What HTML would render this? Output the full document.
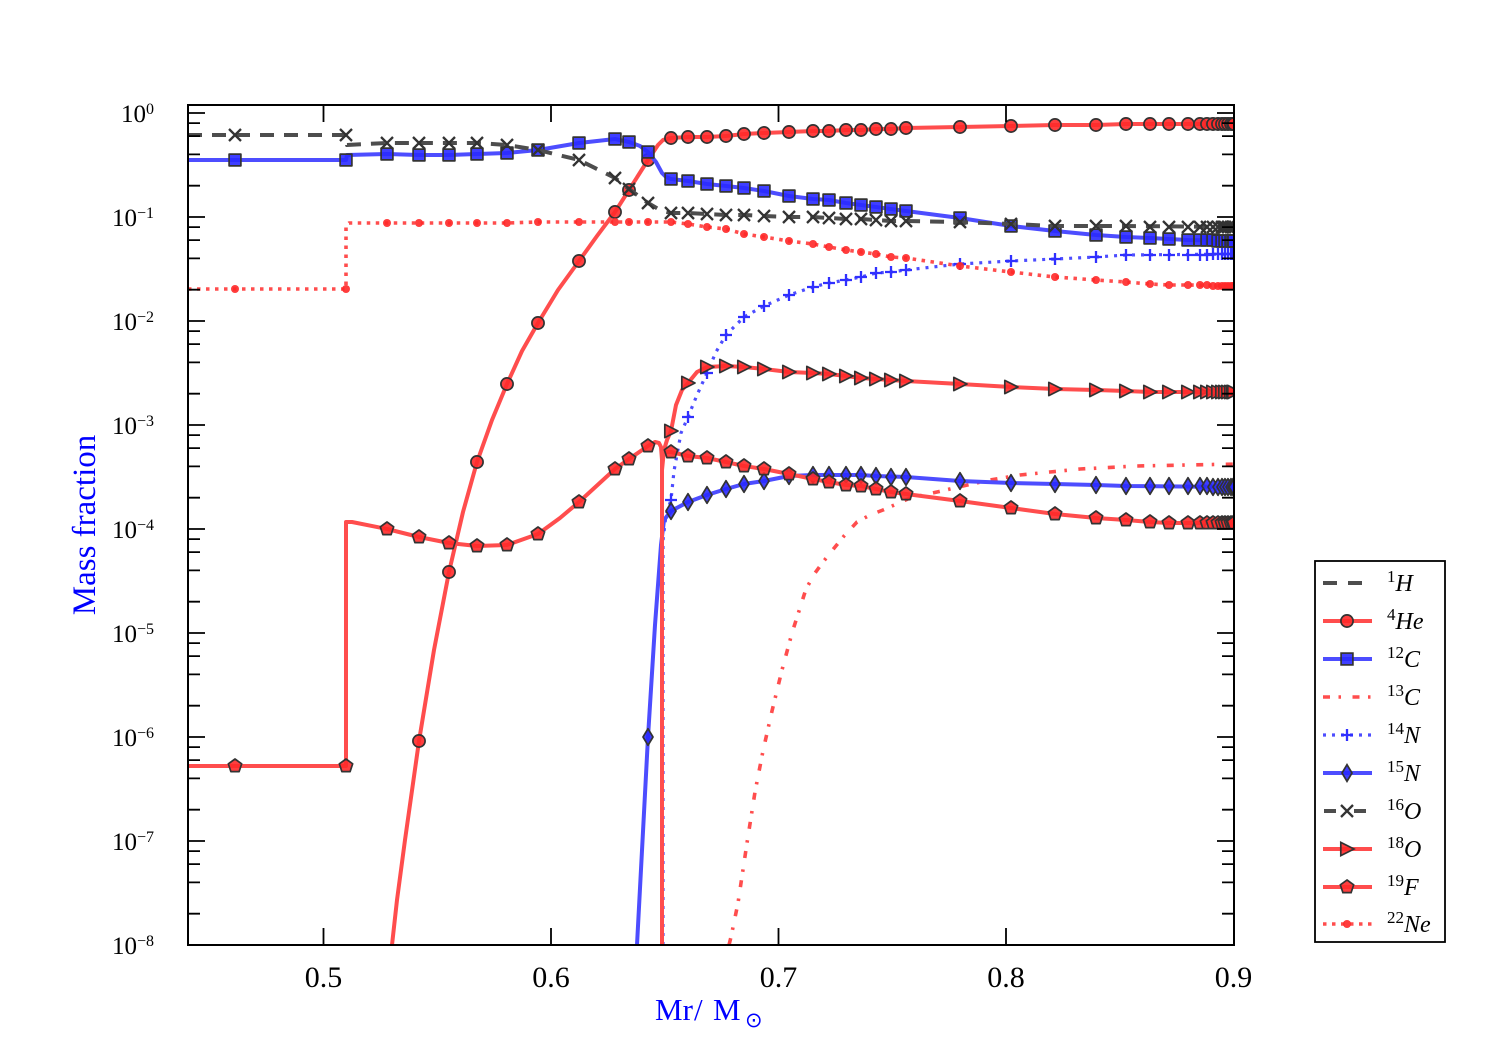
<!DOCTYPE html>
<html><head><meta charset="utf-8"><style>
html,body{margin:0;padding:0;background:#fff;}
svg{display:block;}
text{font-family:"Liberation Serif","DejaVu Serif",serif;}
</style></head><body>
<svg width="1500" height="1050" viewBox="0 0 1500 1050" xmlns="http://www.w3.org/2000/svg">
<defs>
<clipPath id="cp"><rect x="188" y="105" width="1046" height="840"/></clipPath>
<g id="circ"><circle cx="0" cy="0" r="6.1" fill="#ff2a2a" fill-opacity="0.9" stroke="#333" stroke-width="1.7"/></g>
<g id="sq"><rect x="-5.9" y="-5.9" width="11.8" height="11.8" fill="#2a2aff" fill-opacity="0.9" stroke="#333" stroke-width="1.7"/></g>
<g id="xm"><path d="M-6,-6L6,6M-6,6L6,-6" stroke="#333" stroke-width="2.3" fill="none"/></g>
<g id="pl"><path d="M-6,0H6M0,-6V6" stroke="#3030ff" stroke-width="2.3" fill="none"/></g>
<g id="dia"><polygon points="0,-8.3 5,0 0,8.3 -5,0" fill="#2a2aff" fill-opacity="0.9" stroke="#333" stroke-width="1.7"/></g>
<g id="tri"><polygon points="7,0 -6.2,6.6 -6.2,-6.6" fill="#ff2a2a" fill-opacity="0.9" stroke="#333" stroke-width="1.7"/></g>
<g id="pent"><polygon points="0,-7 6.66,-2.16 4.11,5.66 -4.11,5.66 -6.66,-2.16" fill="#ff2a2a" fill-opacity="0.9" stroke="#333" stroke-width="1.7"/></g>
<g id="dot"><circle cx="0" cy="0" r="4" fill="#ff2828" fill-opacity="0.9"/></g>
</defs>

<g clip-path="url(#cp)" fill="none" stroke-linejoin="round">
<!-- 4He -->
<path stroke="#ff4d4d" stroke-width="4" d="M392,945 L397,900 L405,840 L419,741 L434,650 L449,572 L463,512 L477,462 L492,420 L507,384 L522,351 L538,323 L558,290 L579,261 L597,236 L615,212 L629,190 L648,160 L658,145 L663,140 L671,138 L688,137 L707,137 L726,136 L744,134 L764,133 L789,132 L813,131 L829,131 L846,130 L861,130 L876,129 L891,129 L906,128 L960,127 L1011,126 L1055,125 L1096,125 L1126,124 L1240,124"/>
<g>
<use href="#circ" x="419" y="741"/><use href="#circ" x="449" y="572"/><use href="#circ" x="477" y="462"/><use href="#circ" x="507" y="384"/><use href="#circ" x="538" y="323"/><use href="#circ" x="579" y="261"/><use href="#circ" x="615" y="212"/><use href="#circ" x="629" y="190"/><use href="#circ" x="648" y="160"/><use href="#circ" x="671" y="138"/><use href="#circ" x="688" y="137"/><use href="#circ" x="707" y="137"/><use href="#circ" x="726" y="136"/><use href="#circ" x="744" y="134"/><use href="#circ" x="764" y="133"/><use href="#circ" x="789" y="132"/><use href="#circ" x="813" y="131"/><use href="#circ" x="829" y="131"/><use href="#circ" x="846" y="130"/><use href="#circ" x="861" y="130"/><use href="#circ" x="876" y="129"/><use href="#circ" x="891" y="129"/><use href="#circ" x="906" y="128"/><use href="#circ" x="960" y="127"/><use href="#circ" x="1011" y="126"/><use href="#circ" x="1055" y="125"/><use href="#circ" x="1096" y="125"/><use href="#circ" x="1126" y="124"/><use href="#circ" x="1150" y="124"/><use href="#circ" x="1169" y="124"/><use href="#circ" x="1188" y="124"/><use href="#circ" x="1200" y="124"/><use href="#circ" x="1207" y="124"/><use href="#circ" x="1213" y="124"/><use href="#circ" x="1218" y="124"/><use href="#circ" x="1222" y="124"/><use href="#circ" x="1225" y="124"/><use href="#circ" x="1228" y="124"/><use href="#circ" x="1231" y="124"/><use href="#circ" x="1233" y="124"/><use href="#circ" x="1234" y="124"/>
</g>

<!-- 12C -->
<path stroke="#4d4dff" stroke-width="4" d="M188,160 L346,160 L347,155 L387,154 L419,155 L449,155 L477,154 L507,153 L538,150 L579,143 L615,139 L629,142 L640,146 L648,152 L656,162 L662,173 L666,177 L671,179 L688,181 L707,184 L726,186 L744,188 L764,191 L789,196 L813,199 L829,200 L846,203 L861,205 L876,207 L891,209 L906,211 L960,218 L1011,226 L1055,231 L1096,235 L1126,237 L1150,238 L1169,239 L1188,240 L1240,241"/>
<g>
<use href="#sq" x="235" y="160"/><use href="#sq" x="346" y="160"/><use href="#sq" x="387" y="154"/><use href="#sq" x="419" y="155"/><use href="#sq" x="449" y="155"/><use href="#sq" x="477" y="154"/><use href="#sq" x="507" y="153"/><use href="#sq" x="538" y="150"/><use href="#sq" x="579" y="143"/><use href="#sq" x="615" y="139"/><use href="#sq" x="629" y="142"/><use href="#sq" x="648" y="152"/><use href="#sq" x="671" y="179"/><use href="#sq" x="688" y="181"/><use href="#sq" x="707" y="184"/><use href="#sq" x="726" y="186"/><use href="#sq" x="744" y="188"/><use href="#sq" x="764" y="191"/><use href="#sq" x="789" y="196"/><use href="#sq" x="813" y="199"/><use href="#sq" x="829" y="200"/><use href="#sq" x="846" y="203"/><use href="#sq" x="861" y="205"/><use href="#sq" x="876" y="207"/><use href="#sq" x="891" y="209"/><use href="#sq" x="906" y="211"/><use href="#sq" x="960" y="218"/><use href="#sq" x="1011" y="226"/><use href="#sq" x="1055" y="231"/><use href="#sq" x="1096" y="235"/><use href="#sq" x="1126" y="237"/><use href="#sq" x="1150" y="238"/><use href="#sq" x="1169" y="239"/><use href="#sq" x="1188" y="240"/><use href="#sq" x="1200" y="240"/><use href="#sq" x="1207" y="240"/><use href="#sq" x="1213" y="240"/><use href="#sq" x="1218" y="241"/><use href="#sq" x="1222" y="241"/><use href="#sq" x="1225" y="241"/><use href="#sq" x="1228" y="241"/><use href="#sq" x="1231" y="241"/><use href="#sq" x="1233" y="241"/><use href="#sq" x="1234" y="241"/>
</g>

<!-- 13C -->
<path stroke="#ff4d4d" stroke-width="3.6" stroke-dasharray="7,8.5,2.5,11.5" d="M729,945 L731,937 L738,903 L747,843 L755,792 L763,751 L772,711 L782,670 L792,633 L806,589 L815,573 L823,562 L831,552 L844,536 L857,522 L870,515 L883,510 L910,498 L937,492 L963,486 L990,480 L1020,475 L1050,472 L1080,469 L1137,466 L1187,465 L1240,464"/>

<!-- 14N -->
<path stroke="#4d4dff" stroke-width="3.2" stroke-dasharray="3,6" d="M663,945 L663,540 L666,515 L671,500 L674,471 L681,433 L688,417 L697,395 L707,373 L716,352 L726,335 L744,317 L764,306 L789,295 L813,287 L829,283 L846,280 L861,277 L876,273 L891,272 L906,270 L960,264 L1011,261 L1055,259 L1096,257 L1126,255 L1240,254"/>
<g>
<use href="#pl" x="671" y="500"/><use href="#pl" x="688" y="417"/><use href="#pl" x="707" y="373"/><use href="#pl" x="726" y="335"/><use href="#pl" x="744" y="317"/><use href="#pl" x="764" y="306"/><use href="#pl" x="789" y="295"/><use href="#pl" x="813" y="287"/><use href="#pl" x="829" y="283"/><use href="#pl" x="846" y="280"/><use href="#pl" x="861" y="277"/><use href="#pl" x="876" y="273"/><use href="#pl" x="891" y="272"/><use href="#pl" x="906" y="270"/><use href="#pl" x="960" y="264"/><use href="#pl" x="1011" y="261"/><use href="#pl" x="1055" y="259"/><use href="#pl" x="1096" y="257"/><use href="#pl" x="1126" y="255"/><use href="#pl" x="1150" y="255"/><use href="#pl" x="1169" y="255"/><use href="#pl" x="1188" y="255"/><use href="#pl" x="1200" y="255"/><use href="#pl" x="1207" y="255"/><use href="#pl" x="1213" y="254"/><use href="#pl" x="1218" y="254"/><use href="#pl" x="1222" y="254"/><use href="#pl" x="1225" y="254"/><use href="#pl" x="1228" y="254"/><use href="#pl" x="1231" y="254"/><use href="#pl" x="1233" y="254"/><use href="#pl" x="1234" y="254"/>
</g>

<!-- 15N -->
<path stroke="#4d4dff" stroke-width="4" d="M637,945 L648,737 L655,625 L661,545 L664,520 L671,511 L688,502 L707,495 L726,489 L744,484 L764,481 L789,476 L813,475 L846,475 L861,475 L876,476 L906,477 L960,481 L1011,483 L1055,484 L1096,485 L1126,486 L1240,487"/>
<g>
<use href="#dia" x="648" y="737"/><use href="#dia" x="671" y="511"/><use href="#dia" x="688" y="502"/><use href="#dia" x="707" y="495"/><use href="#dia" x="726" y="489"/><use href="#dia" x="744" y="484"/><use href="#dia" x="764" y="481"/><use href="#dia" x="789" y="476"/><use href="#dia" x="813" y="475"/><use href="#dia" x="829" y="475"/><use href="#dia" x="846" y="475"/><use href="#dia" x="861" y="475"/><use href="#dia" x="876" y="476"/><use href="#dia" x="891" y="477"/><use href="#dia" x="906" y="477"/><use href="#dia" x="960" y="481"/><use href="#dia" x="1011" y="483"/><use href="#dia" x="1055" y="484"/><use href="#dia" x="1096" y="485"/><use href="#dia" x="1126" y="486"/><use href="#dia" x="1150" y="486"/><use href="#dia" x="1169" y="486"/><use href="#dia" x="1188" y="486"/><use href="#dia" x="1200" y="486"/><use href="#dia" x="1207" y="486"/><use href="#dia" x="1213" y="487"/><use href="#dia" x="1218" y="487"/><use href="#dia" x="1222" y="487"/><use href="#dia" x="1225" y="487"/><use href="#dia" x="1228" y="487"/><use href="#dia" x="1231" y="487"/><use href="#dia" x="1233" y="487"/><use href="#dia" x="1234" y="487"/>
</g>

<!-- 16O -->
<path stroke="#4d4d4d" stroke-width="4" stroke-dasharray="14,10" d="M188,135 L346,135 L347,145 L387,143 L419,143 L449,143 L477,143 L507,145 L538,150 L579,160 L615,178 L629,189 L648,203 L660,210 L671,213 L688,213 L707,214 L726,215 L744,215 L764,216 L789,217 L813,217 L829,218 L846,219 L861,219 L876,220 L891,221 L906,221 L960,222 L1011,224 L1055,226 L1096,226 L1126,226 L1240,227"/>
<g>
<use href="#xm" x="235" y="135"/><use href="#xm" x="346" y="135"/><use href="#xm" x="387" y="143"/><use href="#xm" x="419" y="143"/><use href="#xm" x="449" y="143"/><use href="#xm" x="477" y="143"/><use href="#xm" x="507" y="145"/><use href="#xm" x="538" y="150"/><use href="#xm" x="579" y="160"/><use href="#xm" x="615" y="178"/><use href="#xm" x="629" y="189"/><use href="#xm" x="648" y="203"/><use href="#xm" x="671" y="213"/><use href="#xm" x="688" y="213"/><use href="#xm" x="707" y="214"/><use href="#xm" x="726" y="215"/><use href="#xm" x="744" y="215"/><use href="#xm" x="764" y="216"/><use href="#xm" x="789" y="217"/><use href="#xm" x="813" y="217"/><use href="#xm" x="829" y="218"/><use href="#xm" x="846" y="219"/><use href="#xm" x="861" y="219"/><use href="#xm" x="876" y="220"/><use href="#xm" x="891" y="221"/><use href="#xm" x="906" y="221"/><use href="#xm" x="960" y="222"/><use href="#xm" x="1011" y="224"/><use href="#xm" x="1055" y="226"/><use href="#xm" x="1096" y="226"/><use href="#xm" x="1126" y="226"/><use href="#xm" x="1150" y="227"/><use href="#xm" x="1169" y="227"/><use href="#xm" x="1188" y="227"/><use href="#xm" x="1200" y="227"/><use href="#xm" x="1207" y="227"/><use href="#xm" x="1213" y="227"/><use href="#xm" x="1218" y="227"/><use href="#xm" x="1222" y="227"/><use href="#xm" x="1225" y="227"/><use href="#xm" x="1228" y="227"/><use href="#xm" x="1231" y="227"/><use href="#xm" x="1233" y="227"/><use href="#xm" x="1234" y="227"/>
</g>

<!-- 18O -->
<path stroke="#ff4d4d" stroke-width="4" d="M662,945 L662,470 L664,450 L667,440 L671,431 L676,405 L682,390 L688,383 L697,372 L707,367 L726,366 L744,367 L764,369 L789,372 L813,373 L829,374 L846,376 L861,378 L876,379 L891,380 L906,381 L960,384 L1011,387 L1055,389 L1096,390 L1126,391 L1150,392 L1240,392"/>
<g>
<use href="#tri" x="671" y="431"/><use href="#tri" x="688" y="383"/><use href="#tri" x="707" y="367"/><use href="#tri" x="726" y="366"/><use href="#tri" x="744" y="367"/><use href="#tri" x="764" y="369"/><use href="#tri" x="789" y="372"/><use href="#tri" x="813" y="373"/><use href="#tri" x="829" y="374"/><use href="#tri" x="846" y="376"/><use href="#tri" x="861" y="378"/><use href="#tri" x="876" y="379"/><use href="#tri" x="891" y="380"/><use href="#tri" x="906" y="381"/><use href="#tri" x="960" y="384"/><use href="#tri" x="1011" y="387"/><use href="#tri" x="1055" y="389"/><use href="#tri" x="1096" y="390"/><use href="#tri" x="1126" y="391"/><use href="#tri" x="1150" y="392"/><use href="#tri" x="1169" y="392"/><use href="#tri" x="1188" y="392"/><use href="#tri" x="1200" y="392"/><use href="#tri" x="1207" y="392"/><use href="#tri" x="1213" y="392"/><use href="#tri" x="1218" y="392"/><use href="#tri" x="1222" y="392"/><use href="#tri" x="1225" y="392"/><use href="#tri" x="1228" y="392"/><use href="#tri" x="1231" y="392"/><use href="#tri" x="1233" y="392"/><use href="#tri" x="1234" y="392"/>
</g>

<!-- 19F -->
<path stroke="#ff4d4d" stroke-width="4" d="M188,766 L346,766 L346,522 L352,522 L387,529 L419,537 L449,543 L477,546 L507,545 L538,534 L560,518 L579,502 L615,469 L629,459 L648,446 L655,442 L659,443 L661,447 L662,460 L662,945 M663,452 L671,452 L688,456 L707,458 L726,462 L744,466 L764,469 L789,474 L813,479 L829,482 L846,485 L861,486 L876,489 L891,492 L906,494 L960,501 L1011,508 L1055,514 L1096,518 L1126,520 L1150,522 L1169,523 L1240,523"/>
<g>
<use href="#pent" x="235" y="766"/><use href="#pent" x="346" y="766"/><use href="#pent" x="387" y="529"/><use href="#pent" x="419" y="537"/><use href="#pent" x="449" y="543"/><use href="#pent" x="477" y="546"/><use href="#pent" x="507" y="545"/><use href="#pent" x="538" y="534"/><use href="#pent" x="579" y="502"/><use href="#pent" x="615" y="469"/><use href="#pent" x="629" y="459"/><use href="#pent" x="648" y="446"/><use href="#pent" x="671" y="452"/><use href="#pent" x="688" y="456"/><use href="#pent" x="707" y="458"/><use href="#pent" x="726" y="462"/><use href="#pent" x="744" y="466"/><use href="#pent" x="764" y="469"/><use href="#pent" x="789" y="474"/><use href="#pent" x="813" y="479"/><use href="#pent" x="829" y="482"/><use href="#pent" x="846" y="485"/><use href="#pent" x="861" y="486"/><use href="#pent" x="876" y="489"/><use href="#pent" x="891" y="492"/><use href="#pent" x="906" y="494"/><use href="#pent" x="960" y="501"/><use href="#pent" x="1011" y="508"/><use href="#pent" x="1055" y="514"/><use href="#pent" x="1096" y="518"/><use href="#pent" x="1126" y="520"/><use href="#pent" x="1150" y="522"/><use href="#pent" x="1169" y="523"/><use href="#pent" x="1188" y="523"/><use href="#pent" x="1200" y="523"/><use href="#pent" x="1207" y="523"/><use href="#pent" x="1213" y="523"/><use href="#pent" x="1218" y="523"/><use href="#pent" x="1222" y="523"/><use href="#pent" x="1225" y="523"/><use href="#pent" x="1228" y="523"/><use href="#pent" x="1231" y="523"/><use href="#pent" x="1233" y="523"/><use href="#pent" x="1234" y="523"/>
</g>

<!-- 22Ne -->
<path stroke="#ff4d4d" stroke-width="3.6" stroke-dasharray="3.5,5.5" d="M188,289 L346,289 L346,226 L349,223 L387,223 L449,223 L507,223 L538,222 L648,222 L671,222 L688,224 L707,227 L726,229 L744,234 L764,237 L789,241 L813,244 L829,247 L846,250 L861,252 L876,254 L891,257 L906,258 L960,266 L1011,272 L1055,277 L1096,280 L1126,282 L1150,284 L1169,285 L1188,285 L1240,286"/>
<g>
<use href="#dot" x="235" y="289"/><use href="#dot" x="346" y="289"/><use href="#dot" x="387" y="223"/><use href="#dot" x="419" y="223"/><use href="#dot" x="449" y="223"/><use href="#dot" x="477" y="223"/><use href="#dot" x="507" y="223"/><use href="#dot" x="538" y="222"/><use href="#dot" x="579" y="222"/><use href="#dot" x="615" y="222"/><use href="#dot" x="629" y="222"/><use href="#dot" x="648" y="222"/><use href="#dot" x="671" y="222"/><use href="#dot" x="688" y="224"/><use href="#dot" x="707" y="227"/><use href="#dot" x="726" y="229"/><use href="#dot" x="744" y="234"/><use href="#dot" x="764" y="237"/><use href="#dot" x="789" y="241"/><use href="#dot" x="813" y="244"/><use href="#dot" x="829" y="247"/><use href="#dot" x="846" y="250"/><use href="#dot" x="861" y="252"/><use href="#dot" x="876" y="254"/><use href="#dot" x="891" y="257"/><use href="#dot" x="906" y="258"/><use href="#dot" x="960" y="266"/><use href="#dot" x="1011" y="272"/><use href="#dot" x="1055" y="277"/><use href="#dot" x="1096" y="280"/><use href="#dot" x="1126" y="282"/><use href="#dot" x="1150" y="284"/><use href="#dot" x="1169" y="285"/><use href="#dot" x="1188" y="285"/><use href="#dot" x="1200" y="285"/><use href="#dot" x="1207" y="285"/><use href="#dot" x="1213" y="286"/><use href="#dot" x="1218" y="286"/><use href="#dot" x="1222" y="286"/><use href="#dot" x="1225" y="286"/><use href="#dot" x="1228" y="286"/><use href="#dot" x="1231" y="286"/><use href="#dot" x="1233" y="286"/><use href="#dot" x="1234" y="286"/>
</g>
</g>

<!-- axes frame and ticks -->
<rect x="188" y="105" width="1046" height="840" fill="none" stroke="#000" stroke-width="2"/>
<path stroke="#000" stroke-width="1.8" fill="none" d="
M188,945h17M188,841h17M188,737h17M188,633h17M188,529h17M188,425h17M188,321h17M188,217h17M188,113h17
M1234,945h-17M1234,841h-17M1234,737h-17M1234,633h-17M1234,529h-17M1234,425h-17M1234,321h-17M1234,217h-17M1234,113h-17
M188,913.7h12M188,882.4h12M188,864.1h12M188,851.1h12
M188,809.7h12M188,778.4h12M188,760.1h12M188,747.1h12
M188,705.7h12M188,674.4h12M188,656.1h12M188,643.1h12
M188,601.7h12M188,570.4h12M188,552.1h12M188,539.1h12
M188,497.7h12M188,466.4h12M188,448.1h12M188,435.1h12
M188,393.7h12M188,362.4h12M188,344.1h12M188,331.1h12
M188,289.7h12M188,258.4h12M188,240.1h12M188,227.1h12
M188,185.7h12M188,154.4h12M188,136.1h12M188,123.1h12
M1234,913.7h-12M1234,882.4h-12M1234,864.1h-12M1234,851.1h-12
M1234,809.7h-12M1234,778.4h-12M1234,760.1h-12M1234,747.1h-12
M1234,705.7h-12M1234,674.4h-12M1234,656.1h-12M1234,643.1h-12
M1234,601.7h-12M1234,570.4h-12M1234,552.1h-12M1234,539.1h-12
M1234,497.7h-12M1234,466.4h-12M1234,448.1h-12M1234,435.1h-12
M1234,393.7h-12M1234,362.4h-12M1234,344.1h-12M1234,331.1h-12
M1234,289.7h-12M1234,258.4h-12M1234,240.1h-12M1234,227.1h-12
M1234,185.7h-12M1234,154.4h-12M1234,136.1h-12M1234,123.1h-12
M323.5,945v-17M551,945v-17M778.5,945v-17M1006,945v-17
M323.5,105v17M551,105v17M778.5,105v17M1006,105v17"/>

<!-- y tick labels -->
<g font-size="25" fill="#000" text-anchor="end">
<text x="154" y="954">10<tspan font-size="16" dy="-8">−8</tspan></text>
<text x="154" y="850">10<tspan font-size="16" dy="-8">−7</tspan></text>
<text x="154" y="746">10<tspan font-size="16" dy="-8">−6</tspan></text>
<text x="154" y="642">10<tspan font-size="16" dy="-8">−5</tspan></text>
<text x="154" y="538">10<tspan font-size="16" dy="-8">−4</tspan></text>
<text x="154" y="434">10<tspan font-size="16" dy="-8">−3</tspan></text>
<text x="154" y="330">10<tspan font-size="16" dy="-8">−2</tspan></text>
<text x="154" y="226">10<tspan font-size="16" dy="-8">−1</tspan></text>
<text x="154" y="122">10<tspan font-size="16" dy="-8">0</tspan></text>
</g>

<!-- x tick labels -->
<g font-size="30" fill="#000" text-anchor="middle">
<text x="323.5" y="987">0.5</text>
<text x="551" y="987">0.6</text>
<text x="778.5" y="987">0.7</text>
<text x="1006" y="987">0.8</text>
<text x="1233.5" y="987">0.9</text>
</g>

<!-- axis labels -->
<text x="0" y="0" font-size="33" fill="#0000ff" text-anchor="middle" transform="translate(95,525) rotate(-90)">Mass fraction</text>
<text x="655" y="1020" font-size="31" fill="#0000ff">Mr</text>
<text x="694" y="1020" font-size="31" fill="#0000ff">/</text>
<text x="713" y="1020" font-size="31" fill="#0000ff">M</text>
<text x="745" y="1027" font-size="21" fill="#0000ff" style="font-family:'DejaVu Sans',sans-serif">⊙</text>

<!-- legend -->
<rect x="1315" y="561" width="130" height="381" fill="#fff" stroke="#000" stroke-width="1.8"/>
<g fill="none">
<path stroke="#4d4d4d" stroke-width="4" stroke-dasharray="14,11" d="M1323,583H1372"/>
<path stroke="#ff4d4d" stroke-width="4" d="M1323,621H1372"/>
<path stroke="#4d4dff" stroke-width="4" d="M1323,659H1372"/>
<path stroke="#ff4d4d" stroke-width="3.6" stroke-dasharray="7,8.5,2.5,11.5" d="M1323,697H1372"/>
<path stroke="#4d4dff" stroke-width="3.2" stroke-dasharray="3,6" d="M1323,735H1372"/>
<path stroke="#4d4dff" stroke-width="4" d="M1323,773H1372"/>
<path stroke="#4d4d4d" stroke-width="4" stroke-dasharray="12,18,12" d="M1324,811H1372"/>
<path stroke="#ff4d4d" stroke-width="4" d="M1323,849H1372"/>
<path stroke="#ff4d4d" stroke-width="4" d="M1323,887H1372"/>
<path stroke="#ff4d4d" stroke-width="3.6" stroke-dasharray="3.5,5.5" d="M1323,924H1372"/>
</g>
<use href="#circ" x="1347" y="621"/>
<use href="#sq" x="1347" y="659"/>
<use href="#pl" x="1347" y="735"/>
<use href="#dia" x="1347" y="773"/>
<use href="#xm" x="1347" y="811"/>
<use href="#tri" x="1347" y="849"/>
<use href="#pent" x="1347" y="887"/>
<use href="#dot" x="1347" y="924"/>
<g fill="#000">
<text x="1387" y="591"><tspan font-size="17" dy="-9">1</tspan><tspan font-size="24" font-style="italic" dy="9">H</tspan></text>
<text x="1387" y="629"><tspan font-size="17" dy="-9">4</tspan><tspan font-size="24" font-style="italic" dy="9">He</tspan></text>
<text x="1387" y="667"><tspan font-size="17" dy="-9">12</tspan><tspan font-size="24" font-style="italic" dy="9">C</tspan></text>
<text x="1387" y="705"><tspan font-size="17" dy="-9">13</tspan><tspan font-size="24" font-style="italic" dy="9">C</tspan></text>
<text x="1387" y="743"><tspan font-size="17" dy="-9">14</tspan><tspan font-size="24" font-style="italic" dy="9">N</tspan></text>
<text x="1387" y="781"><tspan font-size="17" dy="-9">15</tspan><tspan font-size="24" font-style="italic" dy="9">N</tspan></text>
<text x="1387" y="819"><tspan font-size="17" dy="-9">16</tspan><tspan font-size="24" font-style="italic" dy="9">O</tspan></text>
<text x="1387" y="857"><tspan font-size="17" dy="-9">18</tspan><tspan font-size="24" font-style="italic" dy="9">O</tspan></text>
<text x="1387" y="895"><tspan font-size="17" dy="-9">19</tspan><tspan font-size="24" font-style="italic" dy="9">F</tspan></text>
<text x="1387" y="932"><tspan font-size="17" dy="-9">22</tspan><tspan font-size="24" font-style="italic" dy="9">Ne</tspan></text>
</g>
</svg>
</body></html>
